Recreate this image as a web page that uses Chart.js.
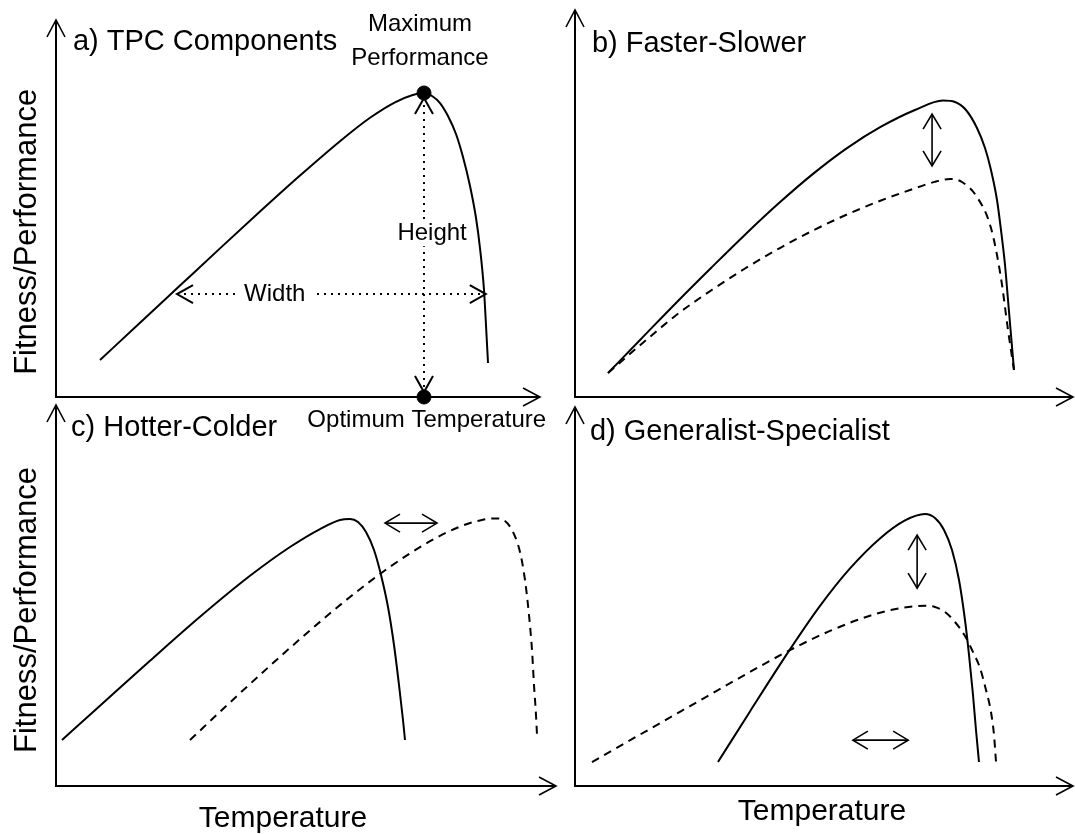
<!DOCTYPE html>
<html>
<head>
<meta charset="utf-8">
<title>Thermal performance curves</title>
<script src="https://cdn.jsdelivr.net/npm/chart.js@4.4.1/dist/chart.umd.min.js"></script>
<style>
  html, body { margin: 0; padding: 0; background: #fff; }
  #wrap { position: relative; width: 1075px; height: 834px; overflow: hidden; }
  #wrap canvas { position: absolute; left: 0; top: 0; }
</style>
</head>
<body>
<div id="wrap">
  <canvas id="pA" width="1075" height="834"></canvas>
  <canvas id="pB" width="1075" height="834"></canvas>
  <canvas id="pC" width="1075" height="834"></canvas>
  <canvas id="pD" width="1075" height="834"></canvas>
</div>
<script>
// --- curves (temperature / performance, arbitrary 0-100 units) ---
// a) single TPC
const tempA = [9.09, 17.36, 25.62, 33.88, 42.15, 50.41, 58.68, 64.88, 70.04, 73.55, 76.03,
               77.69, 79.34, 80.99, 82.64, 84.09, 85.54, 86.78, 87.60, 88.43, 88.84, 89.26];
const perfA = [9.81, 19.68, 29.55, 39.42, 49.18, 58.73, 67.85, 74.06, 78.17, 80.05, 80.64,
               79.84, 77.98, 74.54, 69.76, 63.66, 55.97, 47.48, 39.52, 28.38, 19.10, 9.02];
const optTemp = 76.03;
const maxPerf = 80.64;

// b) faster (solid) vs slower (dashed)
const tempFast = [6.63, 13.45, 20.48, 27.31, 34.14, 40.96, 47.79, 54.62, 61.45, 68.27, 73.90,
                  76.31, 78.51, 80.72, 82.33, 83.53, 84.74, 85.54, 86.35, 86.95, 87.55, 88.15];
const perfFast = [6.20, 15.25, 24.55, 33.33, 41.94, 50.10, 57.65, 64.32, 69.84, 74.16, 76.61,
                  76.23, 74.16, 69.51, 64.34, 58.66, 50.90, 43.15, 34.11, 25.06, 16.02, 6.98];
const tempSlow = [6.63, 14.06, 20.48, 27.31, 34.14, 40.96, 47.79, 54.62, 61.45, 67.27, 72.49,
                  75.30, 77.71, 80.72, 83.53, 85.54, 86.95, 88.15];
const perfSlow = [6.20, 14.47, 21.32, 27.52, 33.20, 38.37, 43.02, 47.16, 50.78, 53.49, 55.68,
                  56.33, 55.56, 51.68, 43.67, 30.75, 17.31, 6.98];

// c) colder (solid) vs hotter (dashed)
const tempCold = [1.2, 8.8, 18.8, 28.8, 38.8, 46.8, 52.8, 56.8, 58.8,
                  60.4, 62.0, 63.6, 65.0, 66.4, 67.6, 68.6, 69.4, 69.8];
const perfCold = [12.07, 21.05, 32.86, 44.41, 55.17, 62.73, 67.45, 69.82, 70.08,
                  69.29, 66.67, 61.94, 55.38, 46.98, 37.01, 26.51, 17.32, 12.07];
const tempHot = [26.8, 34.8, 42.8, 50.8, 58.8, 66.8, 74.8, 80.8, 84.8, 87.8,
                 89.8, 91.4, 92.8, 93.8, 94.6, 95.2, 95.6, 96.0, 96.2];
const perfHot = [12.07, 21.94, 31.55, 40.84, 49.61, 57.53, 64.25, 68.08, 69.71, 70.24,
                 69.55, 66.67, 61.42, 54.07, 44.88, 35.70, 26.51, 18.64, 13.39];

// d) specialist (solid) vs generalist (dashed)
const tempSpec = [28.71, 35.14, 43.17, 49.20, 55.22, 61.24, 66.27, 70.28,
                  72.29, 74.10, 75.70, 77.11, 78.31, 79.12, 79.92, 80.52, 81.12];
const perfSpec = [6.33, 19.68, 36.04, 47.52, 57.41, 65.33, 70.08, 71.77,
                  70.71, 67.55, 62.27, 54.35, 43.80, 34.56, 24.01, 14.78, 6.33];
const tempGen = [3.41, 13.05, 23.09, 33.13, 43.17, 51.20, 59.24, 65.26, 70.28,
                 72.29, 74.30, 76.31, 78.31, 79.92, 81.33, 82.53, 83.53, 84.14, 84.54];
const perfGen = [6.33, 13.56, 21.08, 28.60, 35.86, 40.92, 44.93, 46.91, 47.57,
                 47.23, 45.91, 43.27, 39.58, 35.36, 31.13, 25.33, 19.53, 13.46, 6.33];

// --- double-headed arrows [x0, x1], [y0, y1] ---
const heightArrowX = [optTemp, optTemp];
const heightArrowY = [79.3, 1.3];
const widthArrowX = [25.0, 88.8];
const widthArrowY = [27.3, 27.3];
const shiftBX = [71.7, 71.7];
const shiftBY = [73.1, 59.7];
const shiftCX = [65.8, 76.2];
const shiftCY = [69.0, 69.0];
const shiftDVX = [68.7, 68.7];
const shiftDVY = [66.2, 52.2];
const shiftDHX = [55.8, 66.9];
const shiftDHY = [12.1, 12.1];

const FONT = '"Liberation Sans", Arial, Helvetica, sans-serif';

const zip = (xs, ys) => xs.map((x, i) => ({ x: x, y: ys[i] }));

function curve(xs, ys, dashed) {
  return {
    data: zip(xs, ys),
    borderColor: '#000',
    borderWidth: 2,
    borderDash: dashed ? [8, 6] : [],
    pointRadius: 0,
    fill: false,
    cubicInterpolationMode: 'monotone',
    clip: false
  };
}

// open "V" arrow head with its tip at (tx, ty), coming from (fx, fy)
function head(ctx, tx, ty, fx, fy, len, half) {
  const a = Math.atan2(ty - fy, tx - fx);
  const c = Math.cos(a), s = Math.sin(a);
  ctx.setLineDash([]);
  ctx.beginPath();
  ctx.moveTo(tx - len * c + half * s, ty - len * s - half * c);
  ctx.lineTo(tx, ty);
  ctx.lineTo(tx - len * c - half * s, ty - len * s + half * c);
  ctx.stroke();
}

// double arrow between two points given in data units
function doubleArrow(chart, xs, ys, opt) {
  const ctx = chart.ctx;
  const sx = chart.scales.x, sy = chart.scales.y;
  const x0 = sx.getPixelForValue(xs[0]), y0 = sy.getPixelForValue(ys[0]);
  const x1 = sx.getPixelForValue(xs[1]), y1 = sy.getPixelForValue(ys[1]);
  ctx.save();
  ctx.strokeStyle = '#000';
  ctx.lineWidth = opt.width || 1.6;
  ctx.setLineDash(opt.dash || []);
  ctx.beginPath();
  ctx.moveTo(x0, y0);
  ctx.lineTo(x1, y1);
  ctx.stroke();
  head(ctx, x0, y0, x1, y1, opt.len || 15, opt.half || 9);
  head(ctx, x1, y1, x0, y0, opt.len || 15, opt.half || 9);
  ctx.restore();
}

function label(chart, t) {
  const ctx = chart.ctx;
  const px = chart.scales.x.getPixelForValue(t.x);
  const py = chart.scales.y.getPixelForValue(t.y);
  ctx.save();
  ctx.font = t.size + 'px ' + FONT;
  ctx.textAlign = t.align || 'center';
  ctx.textBaseline = 'middle';
  if (t.knockout) {
    const w = ctx.measureText(t.text).width;
    const left = t.align === 'left' ? px : px - w / 2;
    ctx.fillStyle = '#fff';
    ctx.fillRect(left - t.knockout, py - t.size * 0.55, w + 2 * t.knockout, t.size * 1.1);
  }
  ctx.fillStyle = '#000';
  ctx.translate(px, py);
  if (t.rotate) ctx.rotate(t.rotate);
  ctx.fillText(t.text, 0, 0);
  ctx.restore();
}

// axes with arrow heads, panel labels and shift arrows
const tpcDecor = {
  id: 'tpcDecor',
  afterDatasetsDraw(chart) {
    const deco = chart.config.options.deco;
    const ctx = chart.ctx;
    const ca = chart.chartArea;
    ctx.save();
    ctx.strokeStyle = '#000';
    ctx.lineWidth = 2;
    ctx.beginPath();
    ctx.moveTo(ca.left, ca.top + 1);
    ctx.lineTo(ca.left, ca.bottom);
    ctx.lineTo(ca.right - 1, ca.bottom);
    ctx.stroke();
    ctx.lineWidth = 1.6;
    head(ctx, ca.left, ca.top, ca.left, ca.bottom, 17, 9);
    head(ctx, ca.right, ca.bottom, ca.left, ca.bottom, 17, 9);
    ctx.restore();

    (deco.arrows || []).forEach(a => doubleArrow(chart, a.xs, a.ys, a));
    (deco.labels || []).forEach(t => label(chart, t));
  }
};

const panels = [
  {
    id: 'pA',
    pad: { left: 56, top: 20, right: 535, bottom: 437 },
    datasets: [
      curve(tempA, perfA, false),
      {
        type: 'scatter',
        data: [{ x: optTemp, y: maxPerf }, { x: optTemp, y: 0 }],
        pointRadius: 7,
        pointBackgroundColor: '#000',
        pointBorderColor: '#000',
        showLine: false,
        clip: false
      }
    ],
    deco: {
      arrows: [
        { xs: heightArrowX, ys: heightArrowY, dash: [2, 5], width: 2, len: 16, half: 9 },
        { xs: widthArrowX, ys: widthArrowY, dash: [2, 5], width: 2, len: 16, half: 9 }
      ],
      labels: [
        { text: 'a) TPC Components', x: 3.5, y: 94.2, size: 29, align: 'left' },
        { text: 'Maximum', x: 75.2, y: 98.9, size: 24 },
        { text: 'Performance', x: 75.2, y: 89.9, size: 24 },
        { text: 'Optimum Temperature', x: 76.6, y: -6.1, size: 24 },
        { text: 'Height', x: 77.7, y: 43.5, size: 24, knockout: 4 },
        { text: 'Width', x: 45.2, y: 27.3, size: 24, knockout: 8 },
        { text: 'Fitness/Performance', x: -6.0, y: 43.8, size: 31, rotate: -Math.PI / 2 }
      ]
    }
  },
  {
    id: 'pB',
    pad: { left: 575, top: 10, right: 2, bottom: 437 },
    datasets: [curve(tempFast, perfFast, false), curve(tempSlow, perfSlow, true)],
    deco: {
      arrows: [{ xs: shiftBX, ys: shiftBY }],
      labels: [
        { text: 'b) Faster-Slower', x: 3.4, y: 91.2, size: 29, align: 'left' }
      ]
    }
  },
  {
    id: 'pC',
    pad: { left: 56, top: 405, right: 519, bottom: 48 },
    datasets: [curve(tempCold, perfCold, false), curve(tempHot, perfHot, true)],
    deco: {
      arrows: [{ xs: shiftCX, ys: shiftCY }],
      labels: [
        { text: 'c) Hotter-Colder', x: 3.0, y: 94.0, size: 29, align: 'left' },
        { text: 'Fitness/Performance', x: -5.8, y: 46.2, size: 31, rotate: -Math.PI / 2 },
        { text: 'Temperature', x: 45.4, y: -8.7, size: 30 }
      ]
    }
  },
  {
    id: 'pD',
    pad: { left: 575, top: 407, right: 2, bottom: 48 },
    datasets: [curve(tempSpec, perfSpec, false), curve(tempGen, perfGen, true)],
    deco: {
      arrows: [{ xs: shiftDVX, ys: shiftDVY }, { xs: shiftDHX, ys: shiftDHY }],
      labels: [
        { text: 'd) Generalist-Specialist', x: 3.0, y: 93.4, size: 29, align: 'left' },
        { text: 'Temperature', x: 49.6, y: -6.9, size: 30 }
      ]
    }
  }
];

panels.forEach(p => {
  new Chart(document.getElementById(p.id), {
    type: 'line',
    data: { datasets: p.datasets },
    options: {
      responsive: false,
      animation: false,
      devicePixelRatio: 1,
      events: [],
      layout: { padding: p.pad },
      plugins: { legend: { display: false }, tooltip: { enabled: false } },
      scales: {
        x: { type: 'linear', min: 0, max: 100, display: false },
        y: { type: 'linear', min: 0, max: 100, display: false }
      },
      deco: p.deco
    },
    plugins: [tpcDecor]
  });
});
</script>
</body>
</html>
